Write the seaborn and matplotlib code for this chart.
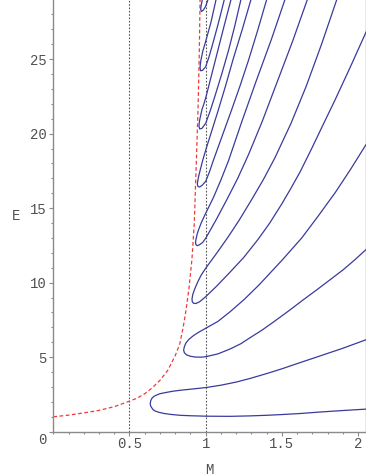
import pandas as pd
import matplotlib
matplotlib.use("Agg")
import matplotlib.pyplot as plt
import matplotlib.transforms as mtransforms
from matplotlib.ticker import MultipleLocator
import seaborn as sns

# === DATA ===

# red dashed curve
red_M = [0.0, 0.1, 0.2, 0.3, 0.4, 0.5, 0.55, 0.6, 0.65, 0.7, 0.75, 0.8, 0.83,
         0.853, 0.871, 0.89, 0.91, 0.925, 0.941, 0.95, 0.958, 0.963]
red_E = [1.0, 1.11, 1.26, 1.43, 1.68, 2.05, 2.25, 2.55, 2.95, 3.45, 4.1, 5.1, 5.9,
         7.05, 8.17, 9.6, 11.6, 14.0, 18.9, 21.8, 25.5, 29.0]

# blue curves, each traced from the upper branch end, round the nose, to the lower branch end
c1_M = [2.06, 1.9, 1.726, 1.6, 1.5, 1.4, 1.29, 1.2, 1.1, 1.0, 0.9, 0.85, 0.787,
        0.744, 0.70, 0.678, 0.66, 0.648, 0.64, 0.636, 0.638, 0.643, 0.656, 0.67,
        0.69, 0.722, 0.77, 0.831, 0.9, 1.0, 1.16, 1.29, 1.4, 1.5, 1.62, 1.75, 1.9, 2.06]
c1_E = [6.2, 5.6, 5.0, 4.57, 4.22, 3.9, 3.57, 3.33, 3.12, 2.96, 2.85, 2.8, 2.72,
        2.64, 2.55, 2.46, 2.37, 2.25, 2.1, 1.9, 1.75, 1.65, 1.46, 1.38,
        1.31, 1.23, 1.16, 1.10, 1.07, 1.04, 1.03, 1.06, 1.1, 1.15, 1.22, 1.32, 1.42, 1.52]

c2_M = [2.06, 1.95, 1.85, 1.74, 1.63, 1.5, 1.35, 1.25, 1.16, 1.08, 1.0, 0.95, 0.92,
        0.89, 0.87, 0.86, 0.855, 0.86, 0.875, 0.9, 0.93, 0.97, 1.0, 1.08, 1.16,
        1.23, 1.29, 1.37, 1.45, 1.55, 1.64, 1.726, 1.81, 1.90, 1.98, 2.06]
c2_E = [19.4, 17.6, 16.05, 14.5, 13.0, 11.5, 9.85, 8.85, 8.05, 7.4, 6.94, 6.65, 6.45,
        6.2, 5.95, 5.7, 5.48, 5.3, 5.15, 5.06, 5.01, 5.0, 5.03, 5.22, 5.55,
        5.9, 6.3, 6.82, 7.4, 8.15, 8.85, 9.5, 10.15, 10.85, 11.55, 12.3]

c3_M = [1.86, 1.76, 1.66, 1.56, 1.455, 1.38, 1.30, 1.22, 1.146, 1.07, 1.0, 0.97,
        0.95, 0.935, 0.925, 0.915, 0.91, 0.912, 0.92, 0.935, 0.96, 1.0, 1.07, 1.15,
        1.25, 1.343, 1.42, 1.50, 1.56, 1.62, 1.70, 1.77, 1.848, 1.95, 2.06]
c3_E = [29.0, 26.0, 23.2, 20.7, 18.4, 16.95, 15.55, 14.2, 13.05, 11.95, 10.97, 10.5,
        10.1, 9.75, 9.5, 9.2, 8.9, 8.72, 8.62, 8.6, 8.72, 9.06, 9.75, 10.6,
        11.7, 12.9, 14.0, 15.3, 16.35, 17.45, 19.1, 20.6, 22.25, 24.5, 27.0]

c4_M = [1.52, 1.43, 1.33, 1.24, 1.15, 1.1, 1.05, 1.0, 0.97, 0.955, 0.945, 0.937,
        0.933, 0.936, 0.945, 0.96, 0.98, 1.0, 1.07, 1.14, 1.21, 1.281, 1.37, 1.47,
        1.57, 1.667]
c4_E = [29.0, 26.3, 23.5, 20.9, 18.2, 16.9, 15.7, 14.66, 14.0, 13.6, 13.3, 12.95,
        12.7, 12.55, 12.48, 12.55, 12.7, 12.98, 14.25, 15.6, 17.0, 18.6, 20.8, 23.5,
        26.2, 29.0]

c5_M = [1.297, 1.24, 1.18, 1.13, 1.08, 1.04, 1.0, 0.98, 0.965, 0.955, 0.948, 0.945,
        0.95, 0.96, 0.975, 1.0, 1.025, 1.05, 1.11, 1.17, 1.225, 1.28, 1.34, 1.40]
c5_E = [29.0, 27.0, 25.0, 23.2, 21.5, 20.2, 18.9, 18.2, 17.6, 17.2, 16.85, 16.6,
        16.45, 16.42, 16.52, 16.8, 17.45, 18.2, 19.9, 21.6, 23.2, 24.9, 26.9, 29.0]

c6_M = [1.166, 1.12, 1.08, 1.04, 1.0, 0.985, 0.975, 0.962, 0.957, 0.956, 0.96,
        0.975, 1.0, 1.03, 1.06, 1.105, 1.15, 1.19, 1.231]
c6_E = [29.0, 27.2, 25.6, 24.0, 22.4, 21.9, 21.6, 21.0, 20.7, 20.5, 20.32,
        20.35, 20.7, 21.55, 22.5, 24.0, 25.6, 27.2, 29.0]

c7_M = [1.068, 1.035, 1.0, 0.98, 0.968, 0.964, 0.963, 0.967, 0.98, 1.0, 1.02,
        1.04, 1.06, 1.08, 1.1, 1.122]
c7_E = [29.0, 27.5, 26.2, 25.5, 24.9, 24.6, 24.4, 24.22, 24.25, 24.5, 25.1,
        25.8, 26.55, 27.3, 28.1, 29.0]

c8_M = [0.978, 0.97, 0.967, 0.972, 0.985, 1.0, 1.015]
c8_E = [29.0, 28.6, 28.35, 28.2, 28.3, 28.55, 29.0]

# dotted reference lines
ref_M = [0.5, 1.0]

# axis ticks
x_ticks = [0.5, 1.0, 1.5, 2.0]
x_labels = ["0.5", "1", "1.5", "2"]
y_ticks = [0, 5, 10, 15, 20, 25]
y_labels = ["0", "5", "10", "15", "20", "25"]

# === STYLE ===

sns.set_theme(style="ticks")
plt.rcParams["font.family"] = ["Liberation Mono", "DejaVu Sans Mono"]

BLUE = "#3a3a9c"
RED = "#f03a3a"
GREY = "#8a8a8a"
TEXT = "#505050"


def build_frame():
    curves = [c1_M, c2_M, c3_M, c4_M, c5_M, c6_M, c7_M, c8_M]
    energies = [c1_E, c2_E, c3_E, c4_E, c5_E, c6_E, c7_E, c8_E]
    rows = []
    for k, (ms, es) in enumerate(zip(curves, energies)):
        for i, (m, e) in enumerate(zip(ms, es)):
            rows.append({"curve": k, "order": i, "M": m, "E": e})
    return pd.DataFrame(rows)


def main():
    fig = plt.figure(figsize=(3.66, 4.76), dpi=100)
    ax = fig.add_axes([0.1456, 0.0931, 0.8533, 0.9069])

    for m in ref_M:
        ax.axvline(m, color="#555555", lw=0.8, ls=(0, (1.5, 1.5)), zorder=1)

    df = build_frame()
    sns.lineplot(data=df, x="M", y="E", units="curve", estimator=None, sort=False,
                 color=BLUE, lw=0.9, ax=ax, zorder=3)

    red = pd.DataFrame({"M": red_M, "E": red_E})
    sns.lineplot(data=red, x="M", y="E", sort=False, estimator=None,
                 color=RED, lw=0.9, ls=(0, (3, 2)), ax=ax, zorder=2)

    ax.set_xlim(0, 2.049)
    ax.set_ylim(0, 28.97)

    ax.spines["top"].set_visible(False)
    for side in ["left", "bottom", "right"]:
        ax.spines[side].set_color(GREY)
        ax.spines[side].set_linewidth(1.0)

    ax.set_xticks(x_ticks)
    ax.set_xticklabels(x_labels)
    ax.set_yticks(y_ticks)
    ax.set_yticklabels(y_labels)
    ax.xaxis.set_minor_locator(MultipleLocator(0.1))
    ax.yaxis.set_minor_locator(MultipleLocator(1))
    ax.tick_params(which="major", direction="out", length=3, width=0.8, color=GREY,
                   labelcolor=TEXT, labelsize=10)
    ax.tick_params(which="minor", direction="out", length=1.5, width=0.8, color=GREY)
    ax.tick_params(axis="x", which="major", pad=1)
    ax.tick_params(axis="y", which="major", pad=1.8, right=False)

    # Maple puts the origin label a little lower than the axis
    zero = ax.get_yticklabels()[0]
    zero.set_transform(zero.get_transform() +
                       mtransforms.ScaledTranslation(0, -5 / 72, fig.dpi_scale_trans))

    ax.set_xlabel("M", color=TEXT, fontsize=10, va="center")
    ax.set_ylabel("E", color=TEXT, fontsize=10, rotation=0, va="center")
    ax.xaxis.set_label_coords(0.5, -0.089)
    ax.yaxis.set_label_coords(-0.1195, 0.5)

    fig.savefig("out.png", dpi=100)
    plt.close(fig)


if __name__ == "__main__":
    main()
